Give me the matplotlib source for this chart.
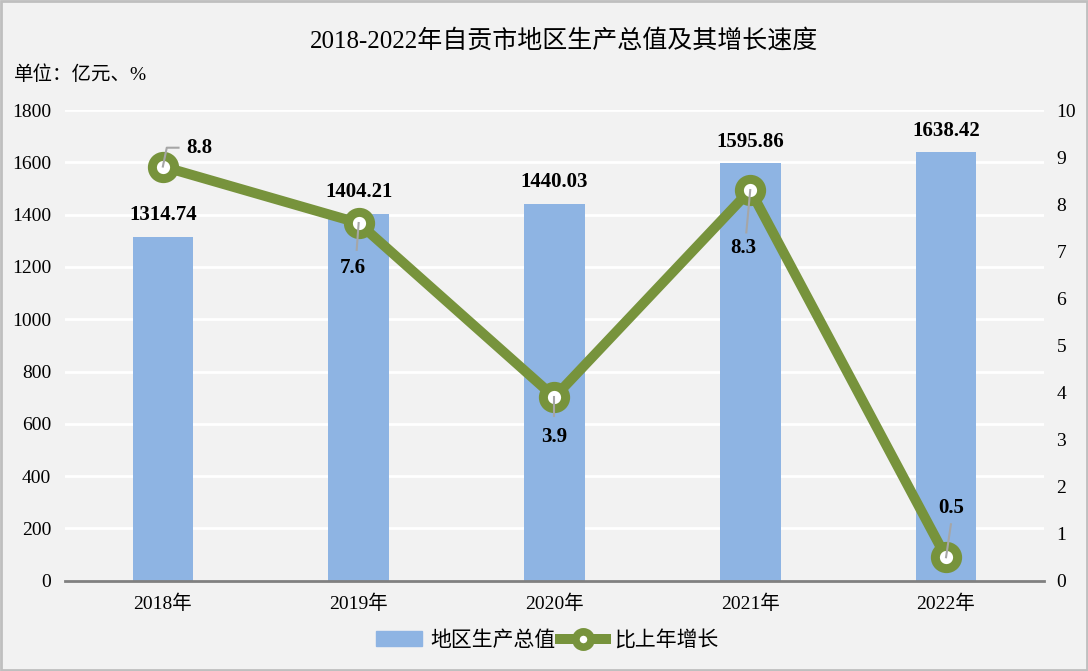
import matplotlib
matplotlib.use("Agg")
import matplotlib.pyplot as plt
import numpy as np
from matplotlib.patches import Patch
from matplotlib.lines import Line2D

years = ["2018年", "2019年", "2020年", "2021年", "2022年"]
gdp = [1314.74, 1404.21, 1440.03, 1595.86, 1638.42]
growth = [8.8, 7.6, 3.9, 8.3, 0.5]
gdp_labels = ["1314.74", "1404.21", "1440.03", "1595.86", "1638.42"]
growth_labels = ["8.8", "7.6", "3.9", "8.3", "0.5"]

FAM = ["Liberation Serif", "Noto Sans CJK SC", "DejaVu Sans"]
plt.rcParams["font.family"] = FAM

bg = "#f2f2f2"
bar_c = "#8eb4e3"
line_c = "#77933c"
lead_c = "#a6a6a6"

fig = plt.figure(figsize=(10.88, 6.71), dpi=100, facecolor=bg)
ax = fig.add_axes([0.0597, 0.1345, 0.8998, 0.7015])
ax.set_facecolor(bg)
x = np.arange(len(years))
ax.bar(x, gdp, width=0.31, color=bar_c, zorder=2)
ax.set_ylim(0, 1800)
ax.set_xlim(-0.5, len(years) - 0.5)
ax.set_yticks(np.arange(0, 1801, 200))
ax.grid(axis="y", color="white", linewidth=2, zorder=0)
for s in ["top", "right", "left"]:
    ax.spines[s].set_visible(False)
ax.spines["bottom"].set_color("#808080")
ax.spines["bottom"].set_linewidth(2)
ax.spines["bottom"].set_zorder(3)
ax.tick_params(axis="both", length=0, labelsize=14, pad=10)
ax.tick_params(axis="x", pad=10)
ax.set_xticks(x)
ax.set_xticklabels(years)

for xi, v, lab in zip(x, gdp, gdp_labels):
    ax.text(xi, v + 45, lab, ha="center", va="bottom", fontsize=15,
            fontweight="bold", zorder=5)

ax2 = ax.twinx()
ax2.set_ylim(0, 10)
ax2.set_yticks(np.arange(0, 11, 1))
for s in ax2.spines.values():
    s.set_visible(False)
ax2.tick_params(axis="y", length=0, labelsize=14, pad=9)
ax2.plot(x, growth, color=line_c, linewidth=7.2, marker="o", markersize=16,
         markerfacecolor="white", markeredgecolor=line_c, markeredgewidth=6.5,
         zorder=4)

# label placement: (label dx, label dy, leader end dx, leader end dy)
place = [(0.12, 0.40, 0.02, 0.40), (-0.03, -0.96, -0.01, -0.57),
         (0.0, -0.85, 0.0, -0.40), (-0.035, -1.23, -0.02, -0.90),
         (0.025, 1.04, 0.025, 0.70)]
for i, (xi, v, lab) in enumerate(zip(x, growth, growth_labels)):
    ldx, ldy, edx, edy = place[i]
    if i == 0:
        ax2.plot([xi, xi + edx, xi + 0.08], [v, v + edy, v + edy], color=lead_c,
                 linewidth=1.5, zorder=5)
        ax2.text(xi + ldx, v + ldy, lab, ha="left", va="center", fontsize=15,
                 fontweight="bold", zorder=6)
    else:
        ax2.plot([xi, xi + edx], [v, v + edy], color=lead_c, linewidth=1.5, zorder=5)
        ax2.text(xi + ldx, v + ldy, lab, ha="center", va="center", fontsize=15,
                 fontweight="bold", zorder=6)

fig.text(0.518, 0.940, "2018-2022年自贡市地区生产总值及其增长速度", ha="center",
         va="center", fontsize=18)
fig.text(0.013, 0.888, "单位：亿元、%", ha="left", va="center", fontsize=14)

handles = [Patch(color=bar_c),
           Line2D([0], [0], color=line_c, linewidth=7.2, marker="o", markersize=11,
                  markerfacecolor="white", markeredgecolor=line_c, markeredgewidth=5.5)]
fig.legend(handles, ["地区生产总值", "比上年增长"], loc="center",
           bbox_to_anchor=(0.503, 0.045), ncol=2, frameon=False, fontsize=15,
           handlelength=2.2, columnspacing=0.2, handletextpad=0.4)

border = plt.Rectangle((0.001, 0.001), 0.998, 0.998, transform=fig.transFigure,
                       fill=False, edgecolor="#bfbfbf", linewidth=2)
fig.add_artist(border)

fig.savefig("out.png", dpi=100, facecolor=bg)
